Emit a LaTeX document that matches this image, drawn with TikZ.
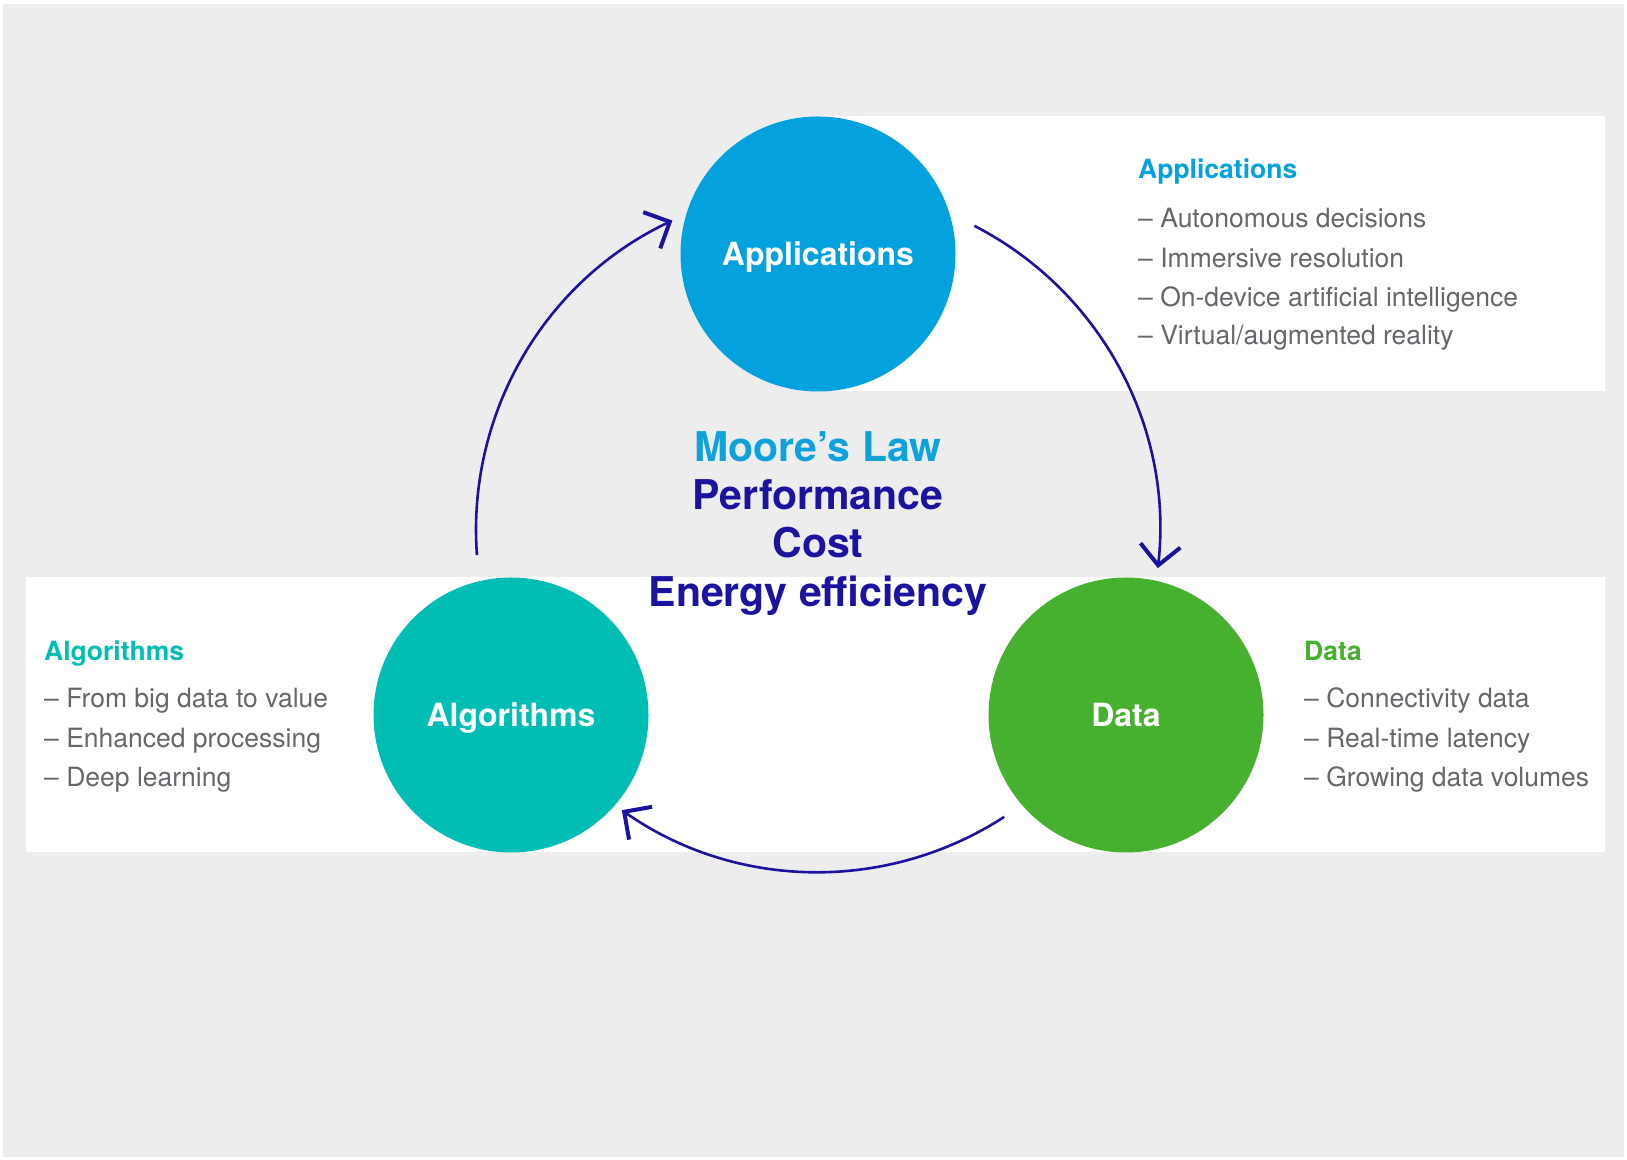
\documentclass[tikz,border=0pt]{standalone}
\usepackage{fontspec}
\setmainfont{TeX Gyre Heros}
\usetikzlibrary{arrows.meta}
\definecolor{bggrey}{HTML}{EDEDED}
\definecolor{appblue}{HTML}{03A1DE}
\definecolor{algteal}{HTML}{00BEB4}
\definecolor{datagreen}{HTML}{46B12E}
\definecolor{navy}{HTML}{1C12A0}
\definecolor{mooreblue}{HTML}{0EA2DD}
\definecolor{itemgrey}{HTML}{66666C}
\begin{document}
\begin{tikzpicture}[x=1pt,y=1pt,
  bubble/.style={circle, minimum size=275pt, inner sep=0pt, text=white,
    text height=23pt, text depth=0pt,
    font=\fontsize{32}{38}\selectfont\bfseries},
  cycarrow/.style={draw=navy, line width=2.6pt,
    -{Straight Barb[length=20pt,width=40pt,line width=4pt]}},
  heading/.style={anchor=base west, inner sep=0pt, font=\fontsize{26.5}{30}\selectfont\bfseries},
  item/.style={anchor=base west, inner sep=0pt, text=itemgrey, font=\fontsize{26.5}{30}\selectfont},
  centre/.style={anchor=base, inner sep=0pt, font=\fontsize{41}{48}\selectfont\bfseries, text=navy}]
\useasboundingbox (0,0) rectangle (1627,1159);
\fill[white] (0,0) rectangle (1627,1159);
\fill[bggrey] (3,2) rectangle (1624,1155);
% white panels
\fill[white] (818,768) rectangle (1605,1043);
\fill[white] (26,307) rectangle (1605,582);
% circles
\node[bubble, fill=appblue] (app) at (818,905) {Applications};
\node[bubble, fill=algteal] (alg) at (511,444) {Algorithms};
\node[bubble, fill=datagreen] (dat) at (1126,444) {Data};
% cycle arrows
\coordinate (cyc) at (818,629);
\draw[cycarrow] ([shift={(184.2:342pt)}]cyc) arc[start angle=184.2, end angle=115.2, radius=342pt];
\draw[cycarrow] ([shift={(62.8:342pt)}]cyc) arc[start angle=62.8, end angle=-6.4, radius=342pt];
\draw[cycarrow] ([shift={(-57:342pt)}]cyc) arc[start angle=-57, end angle=-125, radius=342pt];
% centre text
\node[centre, text=mooreblue] (m1) at (818,697) {Moore’s Law};
\node[centre] (m2) at (818,649) {Performance};
\node[centre] (m3) at (818,601) {Cost};
\node[centre] (m4) at (818,552) {Energy efficiency};
% applications list
\node[heading, text=appblue] (ah) at (1138,980) {Applications};
\node[item] (a1) at (1138,931) {– Autonomous decisions};
\node[item] (a2) at (1138,891) {– Immersive resolution};
\node[item] (a3) at (1138,852) {– On-device artificial intelligence};
\node[item] (a4) at (1138,814) {– Virtual/augmented reality};
% algorithms list
\node[heading, text=algteal] (gh) at (44,498) {Algorithms};
\node[item] (g1) at (44,451) {– From big data to value};
\node[item] (g2) at (44,411) {– Enhanced processing};
\node[item] (g3) at (44,372) {– Deep learning};
% data list
\node[heading, text=datagreen] (dh) at (1304,498) {Data};
\node[item] (d1) at (1304,451) {– Connectivity data};
\node[item] (d2) at (1304,411) {– Real-time latency};
\node[item] (d3) at (1304,372) {– Growing data volumes};
\end{tikzpicture}
\end{document}
